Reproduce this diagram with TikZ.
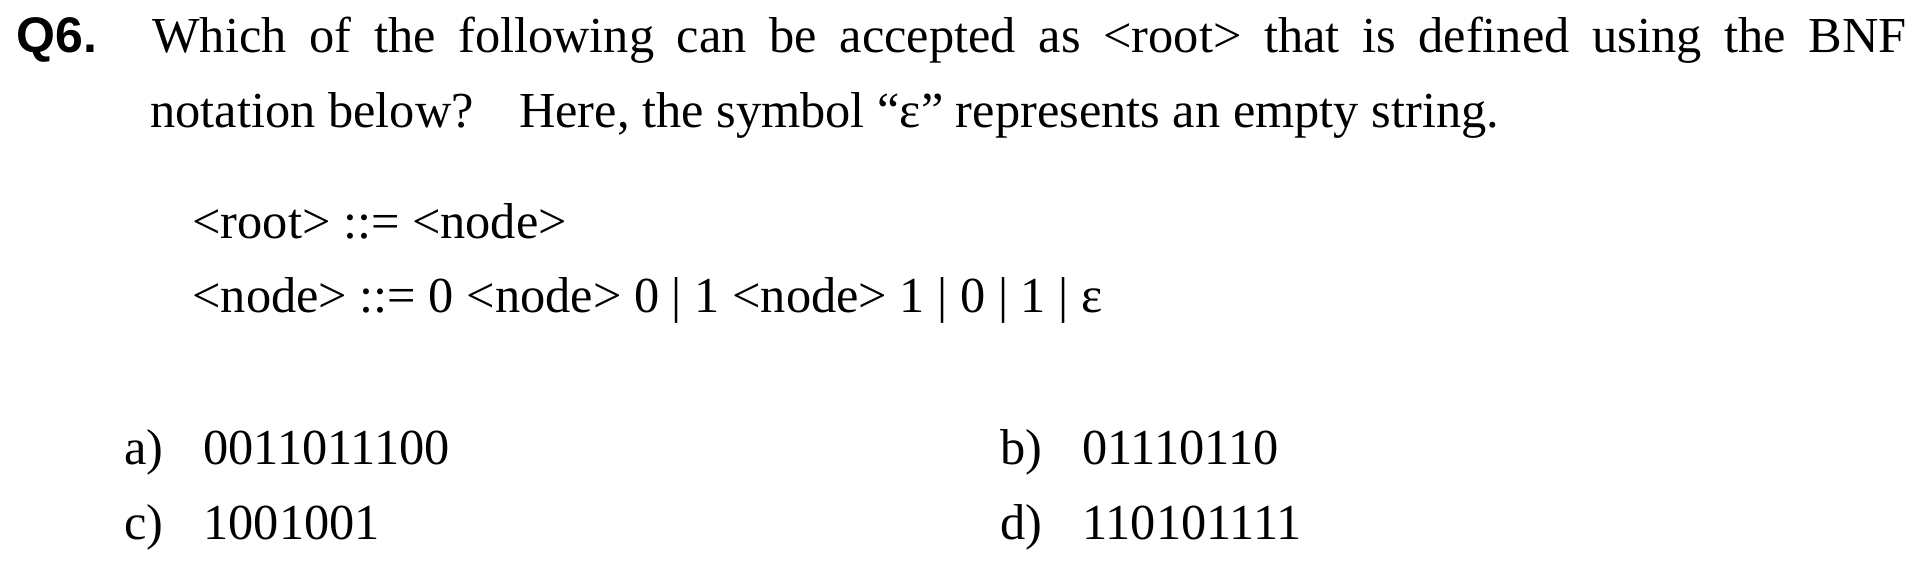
\documentclass[tikz,border=0pt]{standalone}
\usepackage{fontspec}
\setmainfont{Liberation Serif}
\newfontfamily\qfont{Liberation Sans}
\usetikzlibrary{positioning}

\begin{document}
\begin{tikzpicture}[
    x=0.5pt, y=-0.5pt,
    % Estilos
    txt/.style={
        inner sep=0pt, anchor=base west,
        font=\fontsize{25.2}{37}\selectfont
    },
    q_label/.style={txt, font=\fontsize{25}{37}\selectfont\qfont\bfseries},
    opt_label/.style={txt},
    opt_value/.style={txt}
]
    \useasboundingbox (0,0) rectangle (1918,566);

    % --- ENUNCIADO ---
    \node[q_label] (qnum) at (16,53) {Q6.};
    \node[txt] (stem1) at (152,53)
        {\makebox[877pt][s]{Which of the following can be accepted as <root> that is defined using the BNF}};
    \node[txt] (stem2) at (150,128)
        {notation below?\hspace{0.9em}Here, the symbol “ε” represents an empty string.};

    % --- REGRAS BNF ---
    \node[txt] (rule_root) at (192,239) {<root> ::= <node>};
    \node[txt] (rule_node) at (192,313) {<node> ::= 0 <node> 0 | 1 <node> 1 | 0 | 1 | ε};

    % --- ALTERNATIVAS ---
    \node[opt_label] (opt_a) at (124,465) {a)};
    \node[opt_value] (val_a) at (203,465) {0011011100};
    \node[opt_label] (opt_b) at (1000,465) {b)};
    \node[opt_value] (val_b) at (1082,465) {01110110};
    \node[opt_label] (opt_c) at (124,539) {c)};
    \node[opt_value] (val_c) at (203,539) {1001001};
    \node[opt_label] (opt_d) at (1000,539) {d)};
    \node[opt_value] (val_d) at (1082,539) {110101111};

\end{tikzpicture}
\end{document}
